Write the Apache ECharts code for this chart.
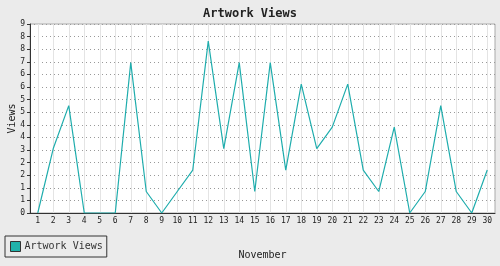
<!DOCTYPE html>
<html><head><meta charset="utf-8">
<script src="https://cdn.jsdelivr.net/npm/echarts@6/dist/echarts.min.js"></script>
<style>html,body{margin:0;padding:0;background:#ebebeb}#c{width:500px;height:266px}</style>
</head><body><div id="c"></div>
<script>
var days = ['1','2','3','4','5','6','7','8','9','10','11','12','13','14','15','16','17','18','19','20','21','22','23','24','25','26','27','28','29','30'];
var views = [0,3,5,0,0,0,7,1,0,1,2,8,3,7,1,7,2,6,3,4,6,2,1,4,0,1,5,1,0,2];
var yMax = 8.8;
var ySteps = 15;
var font = 'DejaVu Sans Mono';
var chart = echarts.init(document.getElementById('c'), null, {renderer:'canvas'});
chart.setOption({
  backgroundColor:'#ebebeb',
  animation:false,
  title:{text:'Artwork Views', left:'center', top:3, textStyle:{fontFamily:font, fontSize:12, fontWeight:'bold', color:'#222'}},
  grid:{left:30, right:5, top:24, bottom:53, show:true, backgroundColor:'#fff', borderColor:'#aaa', borderWidth:1, containLabel:false, outerBoundsMode:'none'},
  legend:{data:['Artwork Views'], left:5, top:236, orient:'horizontal', padding:[5,4,5,5], itemGap:4,
    borderColor:'#333', borderWidth:1, backgroundColor:'#ebebeb', itemWidth:10, itemHeight:10, icon:'rect',
    textStyle:{fontFamily:font, fontSize:10, color:'#333', padding:[0,0,0,-1]},
    itemStyle:{borderColor:'#333', borderWidth:1, color:'#20b2aa'}},
  xAxis:{type:'category', data:days, boundaryGap:true, name:'November', nameLocation:'middle', nameGap:37, nameMoveOverlap:false,
    nameTextStyle:{fontFamily:font, fontSize:10, color:'#222'},
    axisLine:{lineStyle:{color:'#333', width:1}},
    axisTick:{alignWithLabel:true, length:3, lineStyle:{color:'#333'}},
    axisLabel:{fontFamily:font, fontSize:8, color:'#222', margin:4, interval:0},
    splitLine:{show:true, alignWithLabel:true, interval:0, lineStyle:{color:'#e4e4e4', width:1}}},
  yAxis:{type:'value', min:0, max:yMax, interval:yMax/ySteps, name:'Views', nameLocation:'middle', nameGap:13, nameMoveOverlap:false,
    nameTextStyle:{fontFamily:font, fontSize:10, color:'#222'},
    axisLine:{show:true, lineStyle:{color:'#333', width:1}},
    axisTick:{show:true, length:3, lineStyle:{color:'#333'}},
    axisLabel:{fontFamily:font, fontSize:8, color:'#222', margin:5, formatter:function(v){return String(Math.round(v));}},
    splitLine:{show:true, lineStyle:{color:'#999', type:[1,3], width:1}}},
  series:[{name:'Artwork Views', type:'line', data:views, symbol:'none', itemStyle:{color:'#20b2aa'},
    lineStyle:{color:'#1fadad', width:1.2}}]
});
</script></body></html>
